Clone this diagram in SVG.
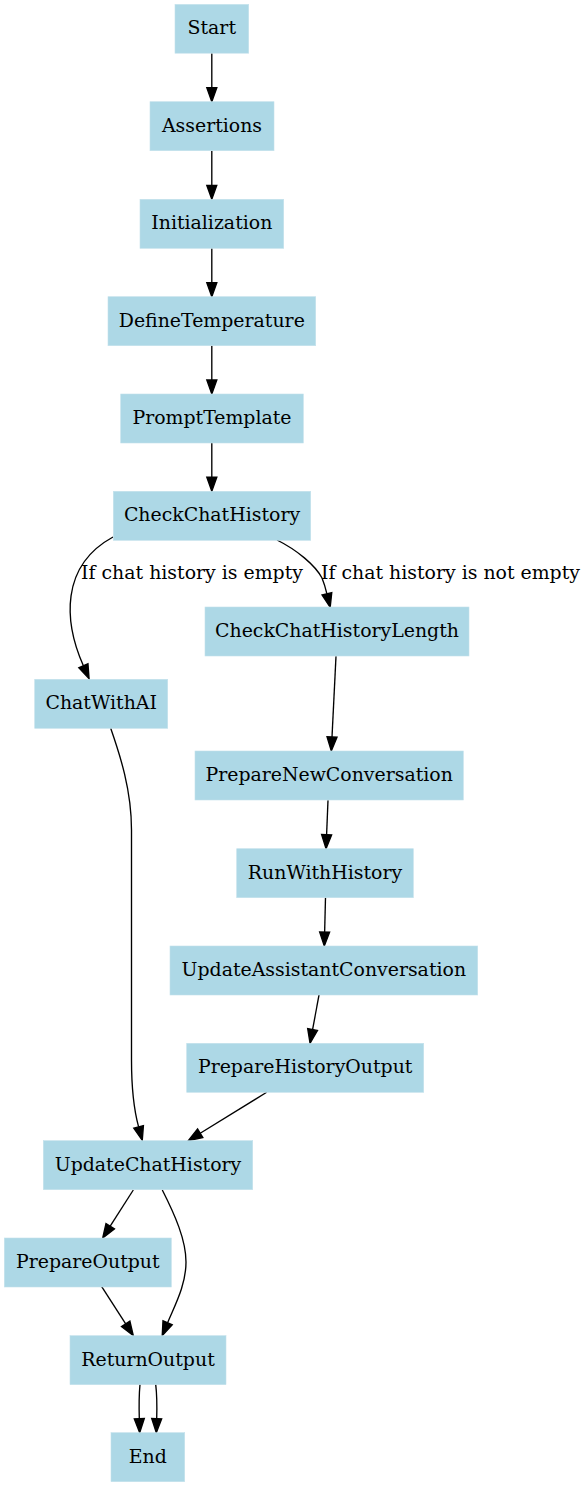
<svg xmlns="http://www.w3.org/2000/svg" width="587" height="1487" viewBox="0 0 587 1487">
<style>
.n rect{fill:#add8e6;stroke:#c4e2ec;stroke-width:0.6}
.n text{font-family:"DejaVu Serif",serif;font-size:18.9px;fill:#000;text-anchor:middle}
.e path{fill:none;stroke:#000;stroke-width:1.35;marker-end:url(#ah)}
.lbl{font-family:"DejaVu Serif",serif;font-size:18.9px;fill:#000;text-anchor:middle}
</style>
<defs>
<marker id="ah" markerUnits="userSpaceOnUse" markerWidth="16" markerHeight="12" refX="0" refY="5" orient="auto" overflow="visible" viewBox="0 0 16 10">
<polygon points="0,0 14,5 0,10" fill="#000" stroke="#000" stroke-width="1.35"/>
</marker>
</defs>
<rect width="587" height="1487" fill="#fff"/>
<g id="connectors" class="e">
<path d="M211.8,53.3 V87.7"/>
<path d="M211.8,151 V185.3"/>
<path d="M211.8,248.3 V282.7"/>
<path d="M211.8,345.7 V380"/>
<path d="M211.8,443 V477.3"/>
<path d="M113,537 C60,566 64,622 83.4,665.8"/>
<path d="M277,540 C297,550 315,565 322,578 C324,583 325.5,588 326.9,593.8"/>
<path d="M336,656.3 L332,737"/>
<path d="M328,800.3 L326.6,834.7"/>
<path d="M325.5,897.7 L324.65,932"/>
<path d="M319,995 L312.6,1029.5"/>
<path d="M266.7,1092.3 L200.2,1133.3"/>
<path d="M110.7,728.3 C120,755 131.5,790 131.5,830 L131.5,1060 C131.5,1090 134,1110 138.6,1126.9"/>
<path d="M133.3,1190 L110.2,1226.2"/>
<path d="M162.3,1190 C175,1215 186,1240 186,1262 C186,1285 175,1305 167.6,1322.75"/>
<path d="M101.7,1286.7 L125.7,1323.9"/>
<path d="M140,1384.3 C139,1395 139,1408 139.3,1418.7"/>
<path d="M155.7,1384.3 C157,1395 157,1408 156.7,1418.7"/>
<text class="lbl" x="192" y="579.3">If chat history is empty</text>
<text class="lbl" x="450.5" y="579.3">If chat history is not empty</text>
</g>
<g id="Start" class="n"><rect x="175" y="4.4" width="73.7" height="48.8"/><text x="211.8" y="34.1">Start</text></g>
<g id="Assertions" class="n"><rect x="150" y="101.7" width="124" height="49"/><text x="212" y="131.5">Assertions</text></g>
<g id="Initialization" class="n"><rect x="140" y="199.3" width="143.7" height="49"/><text x="211.8" y="229.1">Initialization</text></g>
<g id="DefineTemperature" class="n"><rect x="108" y="296.7" width="207.7" height="49"/><text x="211.8" y="326.5">DefineTemperature</text></g>
<g id="PromptTemplate" class="n"><rect x="120.7" y="394" width="182.6" height="49"/><text x="212" y="423.8">PromptTemplate</text></g>
<g id="CheckChatHistory" class="n"><rect x="113.3" y="491.3" width="197.4" height="49"/><text x="212" y="521.1">CheckChatHistory</text></g>
<g id="CheckChatHistoryLength" class="n"><rect x="205" y="607" width="264" height="49"/><text x="337" y="636.8">CheckChatHistoryLength</text></g>
<g id="ChatWithAI" class="n"><rect x="34.7" y="679.3" width="133" height="49"/><text x="101.2" y="709.1">ChatWithAI</text></g>
<g id="PrepareNewConversation" class="n"><rect x="195" y="751" width="268.3" height="49"/><text x="329.2" y="780.8">PrepareNewConversation</text></g>
<g id="RunWithHistory" class="n"><rect x="236.7" y="848.7" width="176.6" height="49"/><text x="325" y="878.5">RunWithHistory</text></g>
<g id="UpdateAssistantConversation" class="n"><rect x="170" y="946" width="307.7" height="49"/><text x="323.8" y="975.8">UpdateAssistantConversation</text></g>
<g id="PrepareHistoryOutput" class="n"><rect x="186.7" y="1043.3" width="237" height="49"/><text x="305.2" y="1073.1">PrepareHistoryOutput</text></g>
<g id="UpdateChatHistory" class="n"><rect x="43.3" y="1140.7" width="209.4" height="49"/><text x="148" y="1170.5">UpdateChatHistory</text></g>
<g id="PrepareOutput" class="n"><rect x="4.3" y="1238" width="167" height="49"/><text x="87.8" y="1267.8">PrepareOutput</text></g>
<g id="ReturnOutput" class="n"><rect x="70" y="1335.7" width="156" height="49"/><text x="148" y="1365.5">ReturnOutput</text></g>
<g id="End" class="n"><rect x="111" y="1432.7" width="73.7" height="49"/><text x="147.8" y="1462.5">End</text></g>
</svg>
